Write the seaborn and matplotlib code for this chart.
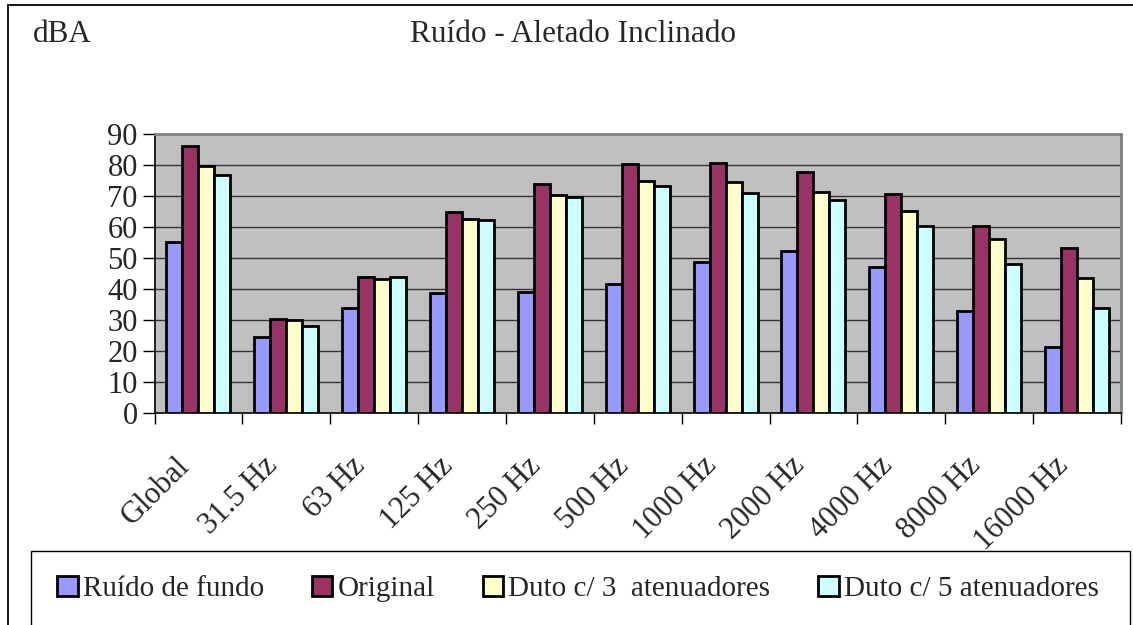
import matplotlib
matplotlib.use("Agg")
import matplotlib.pyplot as plt
import matplotlib.patches as mpatches
import matplotlib.transforms as mtransforms
import numpy as np
import pandas as pd
import seaborn as sns

# Frequency bands and measured sound levels (dBA)
bandas = ["Global", "31.5 Hz", "63 Hz", "125 Hz", "250 Hz", "500 Hz",
          "1000 Hz", "2000 Hz", "4000 Hz", "8000 Hz", "16000 Hz"]
series = ["Ruído de fundo", "Original", "Duto c/ 3  atenuadores", "Duto c/ 5 atenuadores"]
ruido_fundo = [55.0, 24.5, 33.9, 38.5, 39.0, 41.6, 48.8, 52.2, 47.0, 32.8, 21.3]
original = [86.2, 30.3, 43.7, 64.8, 73.8, 80.2, 80.5, 77.6, 70.7, 60.3, 53.2]
duto_3 = [79.6, 29.9, 43.3, 62.4, 70.2, 74.8, 74.5, 71.4, 65.1, 56.1, 43.4]
duto_5 = [76.7, 28.0, 43.7, 62.2, 69.5, 73.1, 70.8, 68.6, 60.3, 48.0, 33.9]
cores = ["#9999FF", "#993366", "#FFFFCC", "#CCFFFF"]
yticks = list(range(0, 100, 10))

df = pd.DataFrame({
    "banda": bandas * 4,
    "serie": [s for s in series for _ in bandas],
    "dBA": ruido_fundo + original + duto_3 + duto_5,
})

sns.set_theme(style="white")
plt.rcParams["font.family"] = ["Liberation Serif", "DejaVu Serif"]
FS_TITLE = 22.5
FS_TICK = 22
FS_LEG = 21

W, H = 1133, 625
fig = plt.figure(figsize=(W / 100, H / 100), dpi=100)
fig.patch.set_facecolor("white")

def px(x0, y0):
    return x0 / W, 1 - y0 / H

# outer chart border (left and top edges visible)
fig.add_artist(mpatches.Rectangle(px(8, 700), (1200 - 8) / W, (700 - 5) / H,
                                  transform=fig.transFigure, fill=False,
                                  edgecolor="black", linewidth=1.3))
# legend frame
fig.add_artist(mpatches.Rectangle(px(31, 700), (1130 - 31) / W, (700 - 551) / H,
                                  transform=fig.transFigure, fill=False,
                                  edgecolor="black", linewidth=1.0))

left, right, top, bottom = 154.5, 1121, 134, 412.7
ax = fig.add_axes([left / W, 1 - bottom / H, (right - left) / W, (bottom - top) / H])
ax.set_facecolor("#C0C0C0")

sns.barplot(data=df, x="banda", y="dBA", hue="serie", order=bandas,
            hue_order=series, palette=cores, saturation=1, width=0.728,
            edgecolor="black", linewidth=2.0, gap=0, legend=False, ax=ax,
            zorder=3)

ax.set_xlim(-0.5, len(bandas) - 0.5)
ax.set_ylim(0, 90)
ax.set_yticks(yticks)
ax.set_yticklabels([str(v) for v in yticks], fontsize=FS_TICK)
for v in yticks[1:-1]:
    ax.axhline(v, color="#333333", linewidth=1.0, zorder=1)

ax.set_xticks(range(len(bandas)))
ax.set_xticklabels(bandas, fontsize=FS_TICK, rotation=45, ha="right",
                   rotation_mode="anchor", va="center")
ax.set_xticks(np.arange(-0.5, len(bandas), 1.0), minor=True)
ax.tick_params(axis="x", which="major", length=0, pad=38)
ax.tick_params(axis="x", which="minor", length=8, width=1.0, color="black",
               direction="out", bottom=True)
ax.tick_params(axis="y", which="major", length=9, width=1.0, color="black",
               direction="out", left=True, pad=3)
ax.set_xlabel("")
ax.set_ylabel("")

# nudge the slanted band labels so their ends sit just left of each group
shift = mtransforms.ScaledTranslation(-13 / 100, 4 / 100, fig.dpi_scale_trans)
for lbl in ax.get_xticklabels():
    lbl.set_transform(lbl.get_transform() + shift)

for s in ("left", "bottom"):
    ax.spines[s].set_color("black")
    ax.spines[s].set_linewidth(1.2)
for s in ("top", "right"):
    ax.spines[s].set_color("#808080")
    ax.spines[s].set_linewidth(2.0)

fig.text(*px(33, 34), "dBA", fontsize=FS_TITLE, ha="left", va="center")
fig.text(*px(573, 34), "Ruído - Aletado Inclinado", fontsize=FS_TITLE,
         ha="center", va="center")

handles = [mpatches.Patch(facecolor=c, edgecolor="black", linewidth=2.0)
           for c in cores]
fig.legend(handles, series, loc="center left", bbox_to_anchor=px(31, 589),
           ncol=4, frameon=False, fontsize=FS_LEG, handlelength=0.7,
           handleheight=0.7, handletextpad=0.17, columnspacing=1.65)

fig.savefig("out.png", dpi=100, facecolor="white")
